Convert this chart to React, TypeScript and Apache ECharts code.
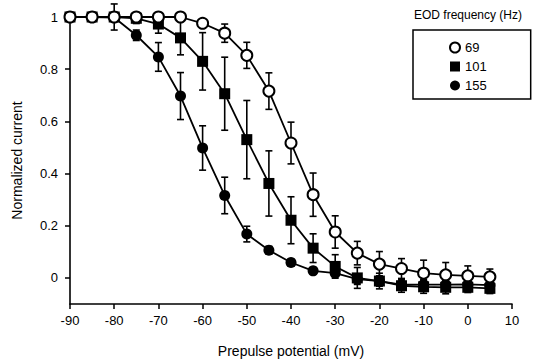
import React, { useEffect, useRef } from "react";
import * as echarts from "echarts";

const potentials = [-90, -85, -80, -75, -70, -65, -60, -55, -50, -45, -40, -35, -30, -25, -20, -15, -10, -5, 0, 5];

const s69 = [1.0, 1.0, 1.0, 1.0, 1.0, 1.0, 0.976, 0.938, 0.853, 0.716, 0.517, 0.319, 0.176, 0.095, 0.053, 0.036, 0.018, 0.012, 0.008, 0.004];
const e69 = [0, 0, 0, 0, 0.01, 0.01, 0.015, 0.035, 0.05, 0.07, 0.08, 0.083, 0.062, 0.045, 0.048, 0.038, 0.05, 0.047, 0.038, 0.03];

const s101 = [1.0, 1.0, 1.0, 0.995, 0.973, 0.92, 0.83, 0.706, 0.53, 0.362, 0.221, 0.114, 0.044, 0.0, -0.012, -0.03, -0.034, -0.036, -0.036, -0.04];
const e101 = [0, 0, 0.05, 0.02, 0.035, 0.065, 0.11, 0.14, 0.15, 0.125, 0.09, 0.055, 0.045, 0.04, 0.03, 0.025, 0.025, 0.025, 0.02, 0.02];

const s155 = [1.0, 1.0, 0.998, 0.93, 0.847, 0.697, 0.498, 0.316, 0.168, 0.106, 0.059, 0.027, 0.018, -0.005, -0.012, -0.026, -0.026, -0.026, -0.025, -0.028];
const e155 = [0, 0, 0.01, 0.02, 0.055, 0.09, 0.085, 0.07, 0.03, 0.015, 0.012, 0.012, 0.012, 0.02, 0.02, 0.02, 0.02, 0.02, 0.02, 0.02];

const yTickValues = [0, 0.2, 0.4, 0.6, 0.8, 1];
const legendTitle = "EOD frequency (Hz)";
const xTitle = "Prepulse potential (mV)";
const yTitle = "Normalized current";

const FONT = "Liberation Sans, Arial, sans-serif";

function errSeries(name: string, vals: number[], errs: number[]) {
  return {
    name: name + "-err",
    type: "custom",
    z: 1,
    silent: true,
    data: potentials.map((x, i) => [x, vals[i] - errs[i], vals[i] + errs[i]]),
    renderItem: (params: any, api: any) => {
      const lo = api.coord([api.value(0), api.value(1)]);
      const hi = api.coord([api.value(0), api.value(2)]);
      const style = { stroke: "#000", lineWidth: 1.6 };
      const cw = 3.5;
      return {
        type: "group",
        children: [
          { type: "line", shape: { x1: lo[0], y1: lo[1], x2: hi[0], y2: hi[1] }, style },
          { type: "line", shape: { x1: hi[0] - cw, y1: hi[1], x2: hi[0] + cw, y2: hi[1] }, style },
          { type: "line", shape: { x1: lo[0] - cw, y1: lo[1], x2: lo[0] + cw, y2: lo[1] }, style },
        ],
      };
    },
  };
}

function lineSeries(name: string, vals: number[], symbol: string, fill: string, z: number) {
  return {
    name,
    type: "line",
    z,
    data: potentials.map((x, i) => [x, vals[i]]),
    symbol,
    symbolSize: 11,
    showAllSymbol: true,
    lineStyle: { color: "#000", width: 1.8 },
    itemStyle: { color: fill, borderColor: "#000", borderWidth: fill === "#fff" ? 2 : 0 },
    emphasis: { disabled: true },
  };
}

export default function App() {
  const ref = useRef<HTMLDivElement>(null);
  useEffect(() => {
    if (!ref.current) return;
    const chart = echarts.init(ref.current, null, { renderer: "svg" });
    chart.setOption({
      animation: false,
      backgroundColor: "#fff",
      textStyle: { fontFamily: FONT },
      grid: { left: 70, right: 24, top: 17, bottom: 58 },
      xAxis: {
        type: "value",
        min: -90,
        max: 10,
        interval: 10,
        name: xTitle,
        nameLocation: "middle",
        nameGap: 40,
        nameTextStyle: { fontSize: 14, color: "#000", fontFamily: FONT },
        axisLine: { onZero: false, lineStyle: { color: "#000", width: 1.6 } },
        axisTick: { length: 5, lineStyle: { color: "#000", width: 1.5 } },
        axisLabel: { fontSize: 13, color: "#000", margin: 10, fontFamily: FONT },
        splitLine: { show: false },
      },
      yAxis: {
        type: "value",
        min: -0.1,
        max: 1,
        name: yTitle,
        nameLocation: "middle",
        nameGap: 46,
        nameTextStyle: { fontSize: 14, color: "#000", fontFamily: FONT },
        axisLine: { show: true, onZero: false, lineStyle: { color: "#000", width: 1.6 } },
        axisTick: { show: true, length: 5, customValues: yTickValues, lineStyle: { color: "#000", width: 1.5 } },
        axisLabel: {
          fontSize: 13,
          color: "#000",
          margin: 12,
          customValues: yTickValues,
          fontFamily: FONT,
          formatter: (v: number) => String(Math.round(v * 10) / 10),
        },
        splitLine: { show: false },
      },
      legend: {
        orient: "vertical",
        left: 413,
        top: 30,
        padding: [11, 44, 7, 36],
        itemWidth: 10,
        itemHeight: 10,
        itemGap: 6,
        borderColor: "#000",
        borderWidth: 1.5,
        textStyle: { fontSize: 13, color: "#000", fontFamily: FONT },
        data: [
          { name: "69", icon: "circle" },
          { name: "101", icon: "rect" },
          { name: "155", icon: "circle" },
        ],
      },
      graphic: [
        {
          type: "text",
          left: 414,
          top: 9,
          style: { text: legendTitle, fontSize: 12, fill: "#000", fontFamily: FONT },
        },
      ],
      series: [
        errSeries("69", s69, e69),
        errSeries("101", s101, e101),
        errSeries("155", s155, e155),
        lineSeries("155", s155, "circle", "#000", 3),
        lineSeries("101", s101, "rect", "#000", 4),
        lineSeries("69", s69, "circle", "#fff", 5),
      ],
    });
    return () => chart.dispose();
  }, []);
  return (
    <div
      ref={ref}
      style={{ position: "fixed", left: 0, top: 0, width: 536, height: 363 }}
    />
  );
}
